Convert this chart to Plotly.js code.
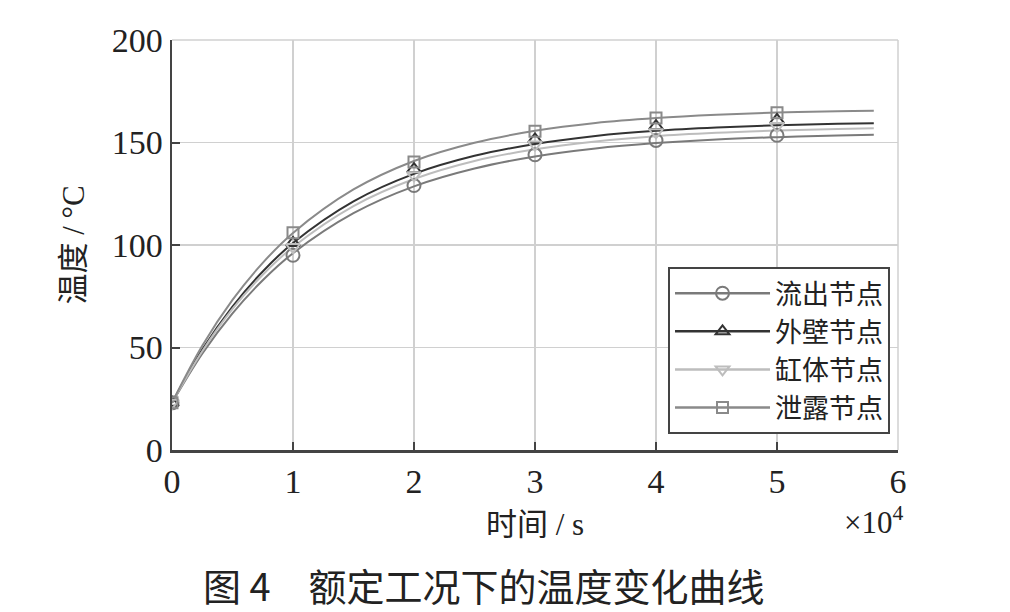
<!DOCTYPE html>
<html><head><meta charset="utf-8">
<script src="https://cdn.plot.ly/plotly-3.0.1.min.js"></script>
<style>html,body{margin:0;padding:0;background:#fff;}#chart{width:1010px;height:612px;}</style>
</head><body><div id="chart"></div>
<script>
// time in units of 1e4 s
const tLine = [0, 0.25, 0.5, 0.75, 1, 1.5, 2, 2.5, 3, 3.5, 4, 4.5, 5, 5.5, 5.8];
const outflow = [23, 47, 66.7, 82.8, 96, 115.5, 128.6, 137.3, 143.2, 147.1, 149.7, 151.5, 152.6, 153.4, 153.8];
const wall    = [23, 49, 70, 87.1, 101, 121.3, 134.7, 143.5, 149.3, 153.2, 155.7, 157.3, 158.4, 159.1, 159.4];
const block   = [23, 48.2, 68.8, 85.5, 99, 119, 132.2, 141, 146.7, 150.5, 153.1, 154.7, 155.8, 156.6, 156.9];
const leak    = [23, 50.8, 73.2, 91.3, 105.9, 127.1, 141, 149.9, 155.7, 159.5, 161.9, 163.5, 164.6, 165.3, 165.5];

const tMark = [0, 1, 2, 3, 4, 5];
const outflowM = [23, 95, 129, 144, 151, 153.5];
const wallM    = [23, 101, 137, 151.5, 158, 161];
const blockM   = [23, 99, 134, 149, 155, 158];
const leakM    = [23, 106, 140.5, 155.5, 162, 164.5];

const names = ['流出节点', '外壁节点', '缸体节点', '泄露节点'];
const xTicks = [0, 1, 2, 3, 4, 5, 6];
const yTicks = [0, 50, 100, 150, 200];

const series = [
  {name: names[0], line: outflow, mk: outflowM, color: '#7a7a7a', sym: 'circle-open', size: 13},
  {name: names[1], line: wall, mk: wallM, color: '#333333', sym: 'triangle-up-open', size: 12},
  {name: names[2], line: block, mk: blockM, color: '#bdbdbd', sym: 'triangle-down-open', size: 12},
  {name: names[3], line: leak, mk: leakM, color: '#8a8a8a', sym: 'square-open', size: 11}
];

const traces = [];
series.forEach(s => {
  traces.push({x: tLine, y: s.line, mode: 'lines', line: {color: s.color, width: 2, shape: 'spline'}, showlegend: false, hoverinfo: 'skip'});
});
series.forEach(s => {
  traces.push({x: tMark, y: s.mk, mode: 'markers', marker: {symbol: s.sym, size: s.size, color: s.color, line: {width: 2, color: s.color}}, showlegend: false});
});
series.forEach(s => {
  traces.push({x: [null], y: [null], name: s.name, mode: 'lines+markers', line: {color: s.color, width: 2.5},
    marker: {symbol: s.sym, size: s.size, color: s.color, line: {width: 2, color: s.color}}});
});

const serif = '"Liberation Serif", "Noto Sans CJK SC", serif';
const layout = {
  width: 1010, height: 612,
  margin: {l: 172, r: 112, t: 40, b: 162},
  paper_bgcolor: '#fff', plot_bgcolor: '#fff',
  font: {family: serif, color: '#222', size: 30},
  xaxis: {
    range: [0, 6], tickvals: xTicks, ticktext: xTicks.map(String),
    showgrid: true, gridcolor: '#d0d0d0', gridwidth: 1.5,
    showline: true, linecolor: '#444', linewidth: 2.5, mirror: false,
    ticks: 'inside', ticklen: 8, tickwidth: 2, tickcolor: '#444',
    zeroline: false, tickfont: {size: 34},
    title: {text: '时间 / s', font: {size: 31}, standoff: 14}
  },
  yaxis: {
    range: [0, 200], tickvals: yTicks, ticktext: yTicks.map(String),
    showgrid: true, gridcolor: '#d0d0d0', gridwidth: 1.5,
    showline: true, linecolor: '#444', linewidth: 2.5,
    ticks: 'inside', ticklen: 8, tickwidth: 2, tickcolor: '#444',
    zeroline: false, tickfont: {size: 34},
    title: {text: '温度 / °C', font: {size: 31}, standoff: 18}
  },
  shapes: [
    {type: 'line', xref: 'paper', yref: 'paper', x0: 0, x1: 1, y0: 1, y1: 1, line: {color: '#d0d0d0', width: 1.5}},
    {type: 'line', xref: 'paper', yref: 'paper', x0: 1, x1: 1, y0: 0, y1: 1, line: {color: '#d0d0d0', width: 1.5}}
  ],
  legend: {
    x: 0.989, xanchor: 'right', y: 0.446, yanchor: 'top',
    bgcolor: '#fff', bordercolor: '#444', borderwidth: 2,
    font: {size: 27, family: serif},
    itemwidth: 95, tracegroupgap: 0
  },
  annotations: [
    {xref: 'paper', yref: 'paper', x: 1.01, y: -0.171, xanchor: 'right', yanchor: 'middle', showarrow: false,
     text: '×10<sup>4</sup>', font: {size: 31, family: '"Liberation Serif", serif'}},
    {xref: 'paper', yref: 'paper', x: 0.43, y: -0.327, xanchor: 'center', yanchor: 'middle', showarrow: false, borderpad: 0,
     text: '图 4　额定工况下的温度变化曲线', font: {size: 38, family: '"Noto Sans CJK SC", sans-serif', color: '#222'}}
  ]
};

Plotly.newPlot('chart', traces, layout, {displayModeBar: false, staticPlot: true});
</script></body></html>
